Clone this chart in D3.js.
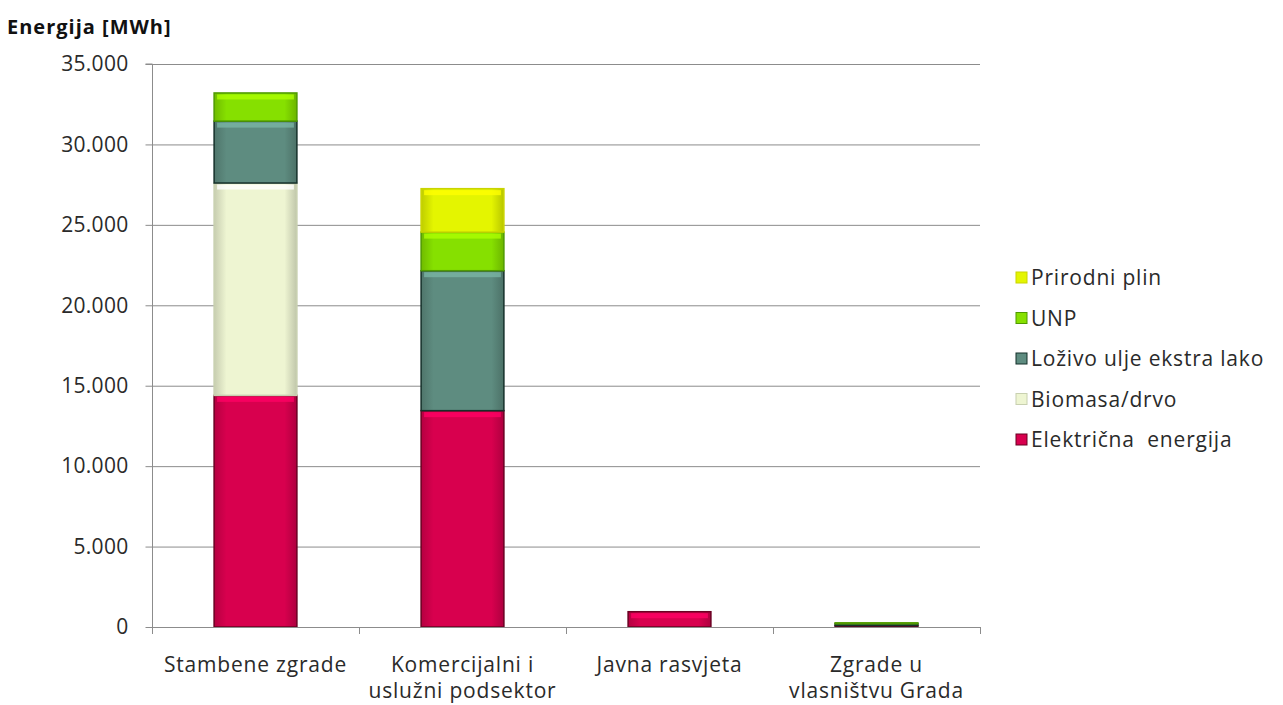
<!DOCTYPE html>
<html><head><meta charset="utf-8">
<script src="https://cdn.jsdelivr.net/npm/d3@7"></script>
<style>
body{margin:0;background:#fff;}
svg{font-family:"Open Sans","Noto Sans",sans-serif;}
text{white-space:pre;}
</style></head>
<body><svg id="c" width="1283" height="705"></svg>
<script>
const categories = [["Stambene zgrade"], ["Komercijalni i","uslužni podsektor"], ["Javna rasvjeta"], ["Zgrade u","vlasništvu Grada"]];
const seriesNames = ["Električna  energija","Biomasa/drvo","Loživo ulje ekstra lako","UNP","Prirodni plin"];
const elektricna = [14400, 13450, 950, 90];
const biomasa = [13200, 0, 0, 0];
const lozivo = [3850, 8700, 0, 110];
const unp = [1750, 2400, 0, 60];
const plin = [0, 2700, 0, 0];
const yTicks = [0,5000,10000,15000,20000,25000,30000,35000];
const colors = ["#d8004e","#eef5d2","#5e8c80","#86e000","#e4f500"];
const strokes = ["#6a0022","#c8d0b0","#15302a","#4f9a00","#c9d400"];

const svg = d3.select("#c");
const x0 = 152, x1 = 980, yTop = 64, yBot = 627;
const x = d3.scaleBand().domain(d3.range(categories.length)).range([x0,x1]).paddingInner(0.6).paddingOuter(0.3);
const y = d3.scaleLinear().domain([0,35000]).range([yBot,yTop]);

const data = categories.map((c,i)=>({i, v:[elektricna[i],biomasa[i],lozivo[i],unp[i],plin[i]]}));
const stack = d3.stack().keys(d3.range(5)).value((d,k)=>d.v[k]);
const layers = stack(data);

// gridlines
svg.append("g").selectAll("line").data(yTicks.slice(1)).join("line")
  .attr("x1",x0).attr("x2",x1).attr("y1",d=>y(d)+0.5).attr("y2",d=>y(d)+0.5)
  .attr("stroke","#8c8c8c").attr("stroke-width",1);

// defs gradients
const defs = svg.append("defs");
colors.forEach((c,k)=>{
  const g = defs.append("linearGradient").attr("id","g"+k).attr("x1","0").attr("x2","1").attr("y1","0").attr("y2","0");
  const cc = d3.color(c);
  g.append("stop").attr("offset","0").attr("stop-color",cc.darker(0.5));
  g.append("stop").attr("offset","0.15").attr("stop-color",c);
  g.append("stop").attr("offset","0.85").attr("stop-color",c);
  g.append("stop").attr("offset","1").attr("stop-color",cc.darker(0.6));
});

// bars
const bars = svg.append("g");
layers.forEach((layer,k)=>{
  bars.append("g").selectAll("rect").data(layer.filter(d=>d[1]-d[0]>0)).join("rect")
    .attr("x",d=>x(d.data.i)).attr("width",x.bandwidth())
    .attr("y",d=>y(d[1])).attr("height",d=>y(d[0])-y(d[1]))
    .attr("fill","url(#g"+k+")").attr("stroke",strokes[k]).attr("stroke-width",1.5);
  // top highlight
  bars.append("g").selectAll("rect").data(layer.filter(d=>y(d[0])-y(d[1])>10)).join("rect")
    .attr("x",d=>x(d.data.i)+3).attr("width",x.bandwidth()-6)
    .attr("y",d=>y(d[1])+1.5).attr("height",5)
    .attr("fill",d3.color(colors[k]).brighter(0.7)).attr("opacity",0.8);
});

const fs = 21, ls = "0.8px";
// axes
const yAxis = d3.axisLeft(y).tickValues(yTicks).tickSize(7).tickPadding(17)
  .tickFormat(d=>d===0?"0":d3.format(",")(d).replace(/,/g,"."));
const ya = svg.append("g").attr("transform",`translate(${x0+0.5},0)`).call(yAxis);
ya.select(".domain").attr("stroke","#8c8c8c").attr("d",`M-7,${yTop}H0V${yBot}`);
ya.selectAll(".tick line").attr("stroke","#8c8c8c");
ya.selectAll("text").attr("font-size",fs).attr("letter-spacing","0.3px").attr("fill","#2a2a2a").attr("font-family","'Open Sans',sans-serif");

const xb = d3.scaleLinear().domain([0,categories.length]).range([x0,x1]);
const xa = svg.append("g");
xa.append("line").attr("x1",x0).attr("x2",x1).attr("y1",yBot+0.5).attr("y2",yBot+0.5).attr("stroke","#8c8c8c");
xa.selectAll("line.t").data(d3.range(categories.length+1)).join("line").attr("class","t")
  .attr("x1",d=>xb(d)+0.5).attr("x2",d=>xb(d)+0.5).attr("y1",yBot).attr("y2",yBot+7).attr("stroke","#8c8c8c");
xa.selectAll("text").data(categories).join("text")
  .attr("x",(d,i)=>x(i)+x.bandwidth()/2).attr("y",672).attr("text-anchor","middle")
  .attr("font-size",fs).attr("letter-spacing",ls).attr("fill","#2a2a2a")
  .selectAll("tspan").data(d=>d).join("tspan")
  .attr("x",function(){return d3.select(this.parentNode).attr("x");})
  .attr("dy",(d,j)=>j===0?0:26).text(d=>d);

// y title
svg.append("text").attr("x",7).attr("y",34).attr("font-size",20).attr("letter-spacing","1px").attr("font-weight","bold").attr("fill","#111").text("Energija [MWh]");

// legend
const legOrder = [4,3,2,1,0];
const lg = svg.append("g");
legOrder.forEach((k,j)=>{
  const ly = 278 + j*40.5;
  lg.append("rect").attr("x",1016).attr("y",ly-6).attr("width",11).attr("height",11)
    .attr("fill",colors[k]).attr("stroke",strokes[k]).attr("stroke-width",1);
  lg.append("text").attr("x",1031).attr("y",ly+7).attr("font-size",fs).attr("letter-spacing",ls).attr("fill","#2a2a2a").text(seriesNames[k]);
});
</script></body></html>
